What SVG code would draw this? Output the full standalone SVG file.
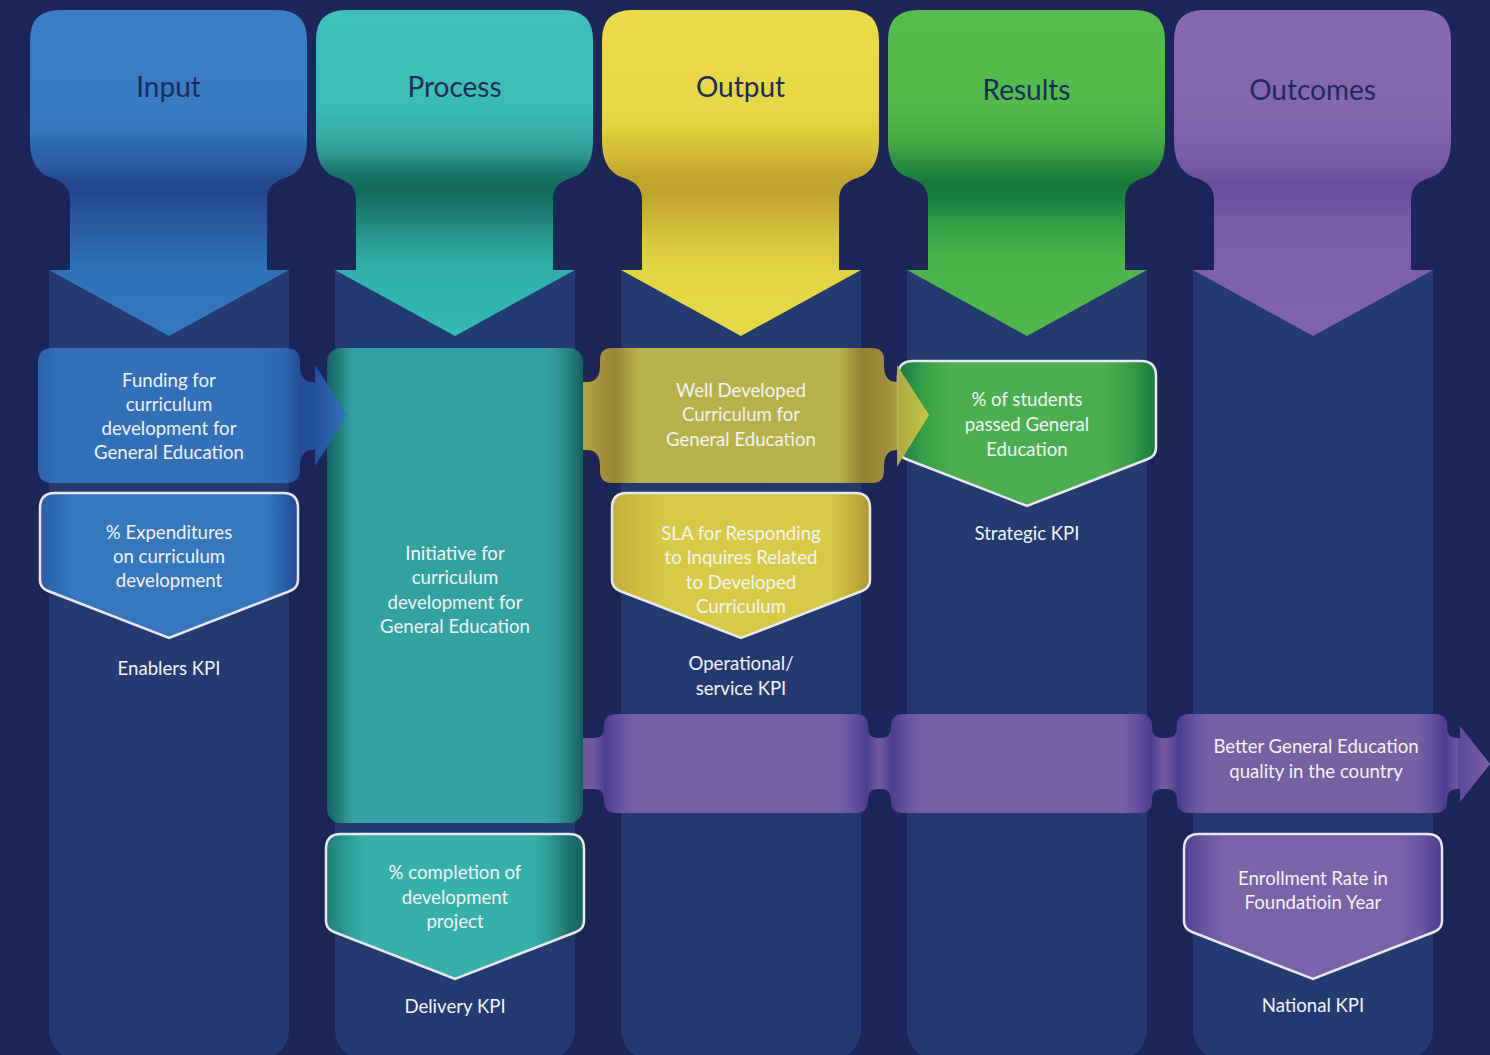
<svg xmlns="http://www.w3.org/2000/svg" xmlns:xlink="http://www.w3.org/1999/xlink" width="1490" height="1055" viewBox="0 0 1490 1055">
<style>
.title{font-family:Lato,"Open Sans","Liberation Sans",sans-serif;font-size:28px;fill:#1f2b5e;text-anchor:middle}
.t{font-family:Lato,"Open Sans","Liberation Sans",sans-serif;font-size:18.6px;fill:#f3f3f5;text-anchor:middle}
.kpi{stroke:#e8e8ee;stroke-width:2.5}
.col{fill:#233b70}
</style>
<defs>
<path id="colShape" d="M49 270 H289 V1030 A30 30 0 0 1 259 1060 H79 A30 30 0 0 1 49 1030 Z"/>
<path id="hdr" d="M60 10 H277 Q307 10 307 40 V140 C307 165 297 174 285 178 C273 182 267 188 267 200 V270 H289 L169 336 L49 270 H70 V200 C70 188 64 182 52 178 C40 174 30 165 30 140 V40 Q30 10 60 10 Z"/>
<path id="kpiShape" d="M15 0 H243 Q258 0 258 15 V87 Q258 95 250 98 L129 145 L8 98 Q0 95 0 87 V15 Q0 0 15 0 Z"/>
<linearGradient id="gIn" gradientUnits="userSpaceOnUse" x1="0" y1="10" x2="0" y2="336">
<stop offset="0" stop-color="#3b7ec5"/><stop offset="0.3" stop-color="#397bc2"/><stop offset="0.35" stop-color="#3474bb"/><stop offset="0.37" stop-color="#3977bc"/><stop offset="0.4" stop-color="#2f6bb2"/><stop offset="0.46" stop-color="#2c60a6"/><stop offset="0.52" stop-color="#234a8f"/><stop offset="0.56" stop-color="#22468d"/><stop offset="0.62" stop-color="#275498"/><stop offset="0.7" stop-color="#2b62a7"/><stop offset="0.78" stop-color="#2f71b7"/><stop offset="1" stop-color="#3579c0"/>
</linearGradient>
<linearGradient id="gPr" gradientUnits="userSpaceOnUse" x1="0" y1="10" x2="0" y2="336">
<stop offset="0" stop-color="#3cc1b9"/><stop offset="0.3" stop-color="#3abdb5"/><stop offset="0.36" stop-color="#38b2aa"/><stop offset="0.4" stop-color="#36a8a1"/><stop offset="0.45" stop-color="#2a938c"/><stop offset="0.5" stop-color="#1a7669"/><stop offset="0.55" stop-color="#12685b"/><stop offset="0.62" stop-color="#1b7d73"/><stop offset="0.7" stop-color="#27978f"/><stop offset="0.78" stop-color="#2fb0a8"/><stop offset="1" stop-color="#33bab2"/>
</linearGradient>
<linearGradient id="gOu" gradientUnits="userSpaceOnUse" x1="0" y1="10" x2="0" y2="336">
<stop offset="0" stop-color="#ebda45"/><stop offset="0.3" stop-color="#e8d742"/><stop offset="0.37" stop-color="#e0cd3d"/><stop offset="0.44" stop-color="#d3bd36"/><stop offset="0.5" stop-color="#c4a72c"/><stop offset="0.55" stop-color="#bea12a"/><stop offset="0.62" stop-color="#c9b132"/><stop offset="0.7" stop-color="#d8c63a"/><stop offset="0.8" stop-color="#e3d440"/><stop offset="1" stop-color="#e8da44"/>
</linearGradient>
<linearGradient id="gRe" gradientUnits="userSpaceOnUse" x1="0" y1="10" x2="0" y2="336">
<stop offset="0" stop-color="#56bc4b"/><stop offset="0.3" stop-color="#53b94a"/><stop offset="0.4" stop-color="#46ab45"/><stop offset="0.47" stop-color="#2c8f3f"/><stop offset="0.53" stop-color="#157a39"/><stop offset="0.58" stop-color="#188040"/><stop offset="0.66" stop-color="#34a045"/><stop offset="0.76" stop-color="#4bb449"/><stop offset="1" stop-color="#50b848"/>
</linearGradient>
<linearGradient id="gOc" gradientUnits="userSpaceOnUse" x1="0" y1="10" x2="0" y2="336">
<stop offset="0" stop-color="#8769ae"/><stop offset="0.3" stop-color="#8466ac"/><stop offset="0.4" stop-color="#7e61a9"/><stop offset="0.48" stop-color="#7459a3"/><stop offset="0.53" stop-color="#6a509c"/><stop offset="0.58" stop-color="#6d539e"/><stop offset="0.68" stop-color="#7a5ea7"/><stop offset="1" stop-color="#8163ab"/>
</linearGradient>
<linearGradient id="gFund" gradientUnits="userSpaceOnUse" x1="38" y1="0" x2="347" y2="0">
<stop offset="0" stop-color="#2c63ae"/><stop offset="0.06" stop-color="#3170b8"/><stop offset="0.7" stop-color="#3170b8"/><stop offset="0.8" stop-color="#2d66b0"/><stop offset="0.85" stop-color="#234c97"/><stop offset="0.9" stop-color="#24509a"/><stop offset="1" stop-color="#3577be"/>
</linearGradient>
<linearGradient id="gTeal" x1="0" y1="0" x2="1" y2="0">
<stop offset="0" stop-color="#17625f"/><stop offset="0.04" stop-color="#1f7c78"/><stop offset="0.1" stop-color="#33a2a3"/><stop offset="0.85" stop-color="#33a2a3"/><stop offset="0.9" stop-color="#2f9696"/><stop offset="0.95" stop-color="#23807d"/><stop offset="1" stop-color="#165f5c"/>
</linearGradient>
<linearGradient id="gYel" gradientUnits="userSpaceOnUse" x1="583" y1="0" x2="929" y2="0">
<stop offset="0" stop-color="#bcae3e"/><stop offset="0.05" stop-color="#b09a36"/><stop offset="0.09" stop-color="#a48c30"/><stop offset="0.165" stop-color="#c4bb48"/><stop offset="0.74" stop-color="#c4bb48"/><stop offset="0.806" stop-color="#9e8630"/><stop offset="0.87" stop-color="#aa9436"/><stop offset="0.91" stop-color="#b8aa40"/><stop offset="1" stop-color="#d0cc48"/>
</linearGradient>
<linearGradient id="kBlue" x1="0" y1="0" x2="1" y2="0">
<stop offset="0" stop-color="#2a5ca6"/><stop offset="0.06" stop-color="#2f6ab4"/><stop offset="0.12" stop-color="#3577bd"/><stop offset="0.88" stop-color="#3577bd"/><stop offset="0.95" stop-color="#2a5ea8"/><stop offset="1" stop-color="#224c96"/>
</linearGradient>
<linearGradient id="kTeal" x1="0" y1="0" x2="1" y2="0">
<stop offset="0" stop-color="#1f7d78"/><stop offset="0.08" stop-color="#2a9b96"/><stop offset="0.15" stop-color="#36b0ab"/><stop offset="0.8" stop-color="#36b0ab"/><stop offset="0.86" stop-color="#2f9e99"/><stop offset="0.95" stop-color="#1a6f69"/><stop offset="1" stop-color="#166660"/>
</linearGradient>
<linearGradient id="kYel" x1="0" y1="0" x2="1" y2="0">
<stop offset="0" stop-color="#c4b03a"/><stop offset="0.1" stop-color="#cfbd3e"/><stop offset="0.2" stop-color="#d8c945"/><stop offset="0.85" stop-color="#d8c945"/><stop offset="0.94" stop-color="#c2ac38"/><stop offset="1" stop-color="#b09630"/>
</linearGradient>
<linearGradient id="kGreen" x1="0" y1="0" x2="1" y2="0">
<stop offset="0" stop-color="#177a3d"/><stop offset="0.1" stop-color="#35a048"/><stop offset="0.2" stop-color="#4cae4c"/><stop offset="0.8" stop-color="#4cae4c"/><stop offset="0.9" stop-color="#3a9d47"/><stop offset="1" stop-color="#177a3d"/>
</linearGradient>
<linearGradient id="kPur" x1="0" y1="0" x2="1" y2="0">
<stop offset="0" stop-color="#4e3f8f"/><stop offset="0.08" stop-color="#6a55a0"/><stop offset="0.16" stop-color="#7a63a8"/><stop offset="0.82" stop-color="#7a63a8"/><stop offset="0.92" stop-color="#6a55a0"/><stop offset="1" stop-color="#4a3c8d"/>
</linearGradient>
<linearGradient id="gPurBody" x1="0" y1="0" x2="1" y2="0">
<stop offset="0" stop-color="#7058a0"/><stop offset="0.04" stop-color="#4b3d8f"/><stop offset="0.1" stop-color="#6a55a0"/><stop offset="0.14" stop-color="#7560a3"/><stop offset="0.86" stop-color="#7560a3"/><stop offset="0.9" stop-color="#6a55a0"/><stop offset="0.96" stop-color="#4b3d8f"/><stop offset="1" stop-color="#7058a0"/>
</linearGradient>
<linearGradient id="gPurArrow" x1="0" y1="0" x2="1" y2="0">
<stop offset="0" stop-color="#5a4898"/><stop offset="1" stop-color="#7b60a8"/>
</linearGradient>
</defs>

<rect width="1490" height="1055" fill="#1d2659"/>

<g id="columns">
<use href="#colShape" class="col"/>
<use href="#colShape" class="col" transform="translate(286,0)"/>
<use href="#colShape" class="col" transform="translate(572,0)"/>
<use href="#colShape" class="col" transform="translate(858,0)"/>
<use href="#colShape" class="col" transform="translate(1144,0)"/>
</g>

<g id="header-input"><use href="#hdr" fill="url(#gIn)"/><text class="title" x="168.5" y="97">Input</text></g>
<g id="header-process" transform="translate(286,0)"><use href="#hdr" fill="url(#gPr)"/><text class="title" x="168.5" y="97">Process</text></g>
<g id="header-output" transform="translate(572,0)"><use href="#hdr" fill="url(#gOu)"/><text class="title" x="168.5" y="97">Output</text></g>
<g id="header-results" transform="translate(858,0)"><use href="#hdr" fill="url(#gRe)"/><text class="title" x="168.5" y="100">Results</text></g>
<g id="header-outcomes" transform="translate(1144,0)"><use href="#hdr" fill="url(#gOc)"/><text class="title" x="168.5" y="100">Outcomes</text></g>

<g id="connectors">
<rect x="581" y="738" width="879" height="51" fill="#72599f"/>
<path d="M1458 738 H1460 V726 L1490 764 L1460 802 V789 H1458 Z" fill="url(#gPurArrow)"/>
</g>

<g id="node-initiative">
<rect x="327" y="348" width="256" height="475" rx="14" fill="url(#gTeal)"/>
<text class="t" x="455" y="560">Initiative for</text>
<text class="t" x="455" y="584">curriculum</text>
<text class="t" x="455" y="609">development for</text>
<text class="t" x="455" y="633">General Education</text>
</g>

<g id="node-funding">
<path d="M53 348 H286 Q300 348 300 362 V366 Q300 382 313 382 H315 V365 L347 415 L315 466 V450 H313 Q300 450 300 466 V469 Q300 483 286 483 H53 Q38 483 38 469 V362 Q38 348 53 348 Z" fill="url(#gFund)"/>
<text class="t" x="169" y="387">Funding for</text>
<text class="t" x="169" y="411">curriculum</text>
<text class="t" x="169" y="435">development for</text>
<text class="t" x="169" y="459">General Education</text>
</g>

<g id="node-students">
<use href="#kpiShape" x="898" y="361" fill="url(#kGreen)" class="kpi"/>
<text class="t" x="1027" y="406">% of students</text>
<text class="t" x="1027" y="431">passed General</text>
<text class="t" x="1027" y="456">Education</text>
</g>

<g id="node-curriculum">
<path d="M612 348 H872 Q884 348 884 360 V366 Q884 382 897 382 V365 L929 415 L897 467 V450 Q884 450 884 466 V471 Q884 483 872 483 H612 Q600 483 600 471 V466 Q600 450 587 450 H583 V382 H587 Q600 382 600 366 V360 Q600 348 612 348 Z" fill="url(#gYel)" opacity="0.93"/>
<text class="t" x="741" y="397">Well Developed</text>
<text class="t" x="741" y="421">Curriculum for</text>
<text class="t" x="741" y="446">General Education</text>
</g>

<g id="node-expenditures">
<use href="#kpiShape" x="40" y="493" fill="url(#kBlue)" class="kpi"/>
<text class="t" x="169" y="539">% Expenditures</text>
<text class="t" x="169" y="563">on curriculum</text>
<text class="t" x="169" y="587">development</text>
</g>

<g id="node-sla">
<use href="#kpiShape" x="612" y="493" fill="url(#kYel)" class="kpi"/>
<text class="t" x="741" y="540">SLA for Responding</text>
<text class="t" x="741" y="564">to Inquires Related</text>
<text class="t" x="741" y="589">to Developed</text>
<text class="t" x="741" y="613">Curriculum</text>
</g>

<g id="node-completion">
<use href="#kpiShape" x="326" y="834" fill="url(#kTeal)" class="kpi"/>
<text class="t" x="455" y="879">% completion of</text>
<text class="t" x="455" y="904">development</text>
<text class="t" x="455" y="928">project</text>
</g>

<g id="node-enrollment">
<use href="#kpiShape" x="1184" y="834" fill="url(#kPur)" class="kpi"/>
<text class="t" x="1313" y="885">Enrollment Rate in</text>
<text class="t" x="1313" y="909">Foundatioin Year</text>
</g>

<g id="node-band-1">
<path d="M616 714 H856 Q868 714 868 726 V727 Q868 738 878 738 V789 Q868 789 868 800 V801 Q868 813 856 813 H616 Q604 813 604 801 V800 Q604 789 594 789 V738 Q604 738 604 727 V726 Q604 714 616 714 Z" fill="url(#gPurBody)"/>
</g>
<g id="node-band-2">
<path d="M903 714 H1140 Q1152 714 1152 726 V727 Q1152 738 1162 738 V789 Q1152 789 1152 800 V801 Q1152 813 1140 813 H903 Q891 813 891 801 V800 Q891 789 881 789 V738 Q891 738 891 727 V726 Q891 714 903 714 Z" fill="url(#gPurBody)"/>
</g>
<g id="node-quality">
<path d="M1189 714 H1435 Q1447 714 1447 726 V727 Q1447 738 1457 738 V789 Q1447 789 1447 800 V801 Q1447 813 1435 813 H1189 Q1177 813 1177 801 V800 Q1177 789 1167 789 V738 Q1177 738 1177 727 V726 Q1177 714 1189 714 Z" fill="url(#gPurBody)"/>
<text class="t" x="1316" y="753">Better General Education</text>
<text class="t" x="1316" y="778">quality in the country</text>
</g>

<g id="labels">
<text class="t" x="169" y="675">Enablers KPI</text>
<text class="t" x="741" y="670">Operational/</text>
<text class="t" x="741" y="695">service KPI</text>
<text class="t" x="1027" y="540">Strategic KPI</text>
<text class="t" x="455" y="1013">Delivery KPI</text>
<text class="t" x="1313" y="1012">National KPI</text>
</g>
</svg>
